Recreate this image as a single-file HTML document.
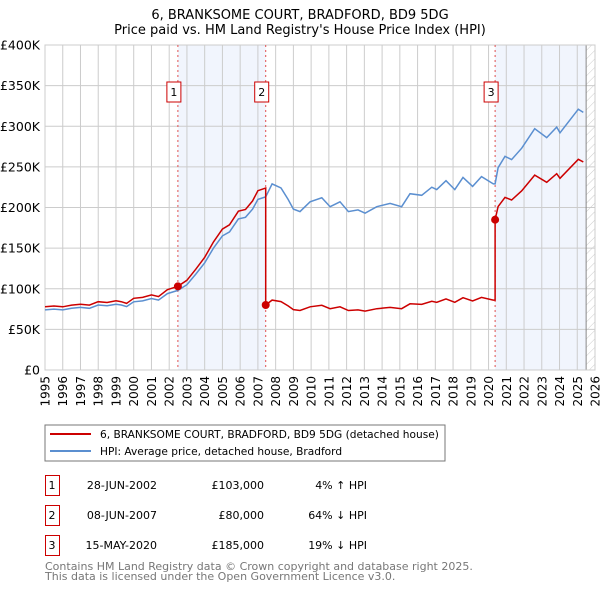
<!DOCTYPE html>
<html><head><meta charset="utf-8"><style>
body{margin:0;background:#fff;font-family:"DejaVu Sans","Liberation Sans",sans-serif;}
svg text{font-family:"DejaVu Sans","Liberation Sans",sans-serif;}
</style></head><body>
<svg id="chart" width="600" height="590" viewBox="0 0 600 590" xmlns="http://www.w3.org/2000/svg">
<defs><pattern id="hatch" width="6" height="6" patternUnits="userSpaceOnUse" patternTransform="rotate(45)"><line x1="0" y1="0" x2="0" y2="6" stroke="#ccc" stroke-width="1"/></pattern></defs>
<text x="300" y="19" text-anchor="middle" font-size="13">6, BRANKSOME COURT, BRADFORD, BD9 5DG</text>
<text x="300" y="34" text-anchor="middle" font-size="13">Price paid vs. HM Land Registry's House Price Index (HPI)</text>
<g id="plot"></g>
<rect x="45" y="425" width="400" height="36" fill="#fff" stroke="#777"/>
<line x1="50" y1="434" x2="91" y2="434" stroke="#cc0000" stroke-width="2"/>
<text x="100" y="438" font-size="10.6">6, BRANKSOME COURT, BRADFORD, BD9 5DG (detached house)</text>
<line x1="50" y1="451" x2="91" y2="451" stroke="#5b8fd0" stroke-width="2"/>
<text x="100" y="455" font-size="10.6">HPI: Average price, detached house, Bradford</text>
<g id="table" font-size="11"></g>
<text x="45" y="570" font-size="11" fill="#777">Contains HM Land Registry data © Crown copyright and database right 2025.</text>
<text x="45" y="580" font-size="11" fill="#777">This data is licensed under the Open Government Licence v3.0.</text>
</svg>
<script>
const hpiYears=[1995.0,1995.5,1996.0,1996.5,1997.0,1997.5,1998.0,1998.5,1999.0,1999.3,1999.6,2000.0,2000.5,2001.0,2001.4,2001.9,2002.49,2003.0,2003.5,2004.0,2004.5,2005.0,2005.4,2005.9,2006.3,2006.7,2007.0,2007.44,2007.8,2008.3,2008.7,2009.0,2009.37,2009.94,2010.6,2011.07,2011.63,2012.1,2012.64,2013.04,2013.7,2014.45,2015.1,2015.57,2016.23,2016.8,2017.08,2017.6,2018.1,2018.56,2019.1,2019.6,2020.27,2020.37,2020.54,2020.93,2021.3,2021.87,2022.6,2023.28,2023.84,2024.03,2025.06,2025.34];
const hpiValues=[74,75,74,76,77,76,80,79,81,80,78,84,85,88,86,94,98,105,118,132,150,165,170,186,188,198,210,213,229,224,210,198,195,207,212,201,207,195,197,193,201,205,201,217,215,225,222,233,222,237,226,238,229,229,249,263,259,273,297,286,299,292,321,317];
const saleYears=[2002.49,2007.44,2020.37];
const salePrices=[103,80,185];
const saleLabels=["1","2","3"];
const saleDates=["28-JUN-2002","08-JUN-2007","15-MAY-2020"];
const salePriceText=["£103,000","£80,000","£185,000"];
const saleDiffText=["4% ↑ HPI","64% ↓ HPI","19% ↓ HPI"];
const yTicks=[0,50,100,150,200,250,300,350,400];
const yTickLabels=["£0","£50K","£100K","£150K","£200K","£250K","£300K","£350K","£400K"];
const xTicks=[1995,1996,1997,1998,1999,2000,2001,2002,2003,2004,2005,2006,2007,2008,2009,2010,2011,2012,2013,2014,2015,2016,2017,2018,2019,2020,2021,2022,2023,2024,2025,2026];
const dataEnd=2025.5;

const X0=45,X1=595,Y0=370,Y1=45;
const xs=t=>X0+(t-1995)/(2026-1995)*(X1-X0);
const ys=v=>Y0-v/400*(Y0-Y1);
const NS="http://www.w3.org/2000/svg";
const plot=document.getElementById('plot');
function mk(tag,attrs,parent){const e=document.createElementNS(NS,tag);for(const k in attrs)e.setAttribute(k,attrs[k]);(parent||plot).appendChild(e);return e;}
function hpiAt(t){for(let i=0;i<hpiYears.length-1;i++){if(t<=hpiYears[i+1]){const f=(t-hpiYears[i])/(hpiYears[i+1]-hpiYears[i]);return hpiValues[i]+f*(hpiValues[i+1]-hpiValues[i]);}}return hpiValues[hpiValues.length-1];}

let r=mk('rect',{x:xs(saleYears[0]),y:Y1,width:xs(saleYears[1])-xs(saleYears[0]),height:Y0-Y1,fill:'#eef3fc',opacity:0.8});


r=mk('rect',{x:xs(saleYears[2]),y:Y1,width:xs(dataEnd)-xs(saleYears[2]),height:Y0-Y1,fill:'#eef3fc',opacity:0.8});


r=mk('rect',{x:xs(dataEnd),y:Y1,width:X1-xs(dataEnd),height:Y0-Y1,fill:'url(#hatch)'});


yTicks.forEach((v,i)=>{
 const l=mk('line',{x1:X0,x2:X1,y1:ys(v),y2:ys(v),stroke:'#ccc','stroke-width':1});
 
 
 const t=mk('text',{x:X0-5,y:ys(v)+4.5,'text-anchor':'end','font-size':12.5});
 t.textContent=yTickLabels[i];
 
 
});
xTicks.forEach(y=>{
 const l=mk('line',{x1:xs(y),x2:xs(y),y1:Y1,y2:Y0,stroke:'#ccc','stroke-width':1});
 
 
 const t=mk('text',{x:0,y:0,'text-anchor':'end','font-size':12,transform:`translate(${xs(y)+4.5},376) rotate(-90)`});
 t.textContent=y;
 
 
});
const vl=mk('line',{x1:xs(dataEnd),x2:xs(dataEnd),y1:Y1,y2:Y0,stroke:'#888','stroke-width':1});


const frame=mk('rect',{x:X0,y:Y1,width:X1-X0,height:Y0-Y1,fill:'none',stroke:'#ccc'});


saleYears.forEach((s,i)=>{
 const l=mk('line',{x1:xs(s),x2:xs(s),y1:Y1,y2:Y0,stroke:'#e05050','stroke-width':1,'stroke-dasharray':'2,3'});
 
 
});
let d='';
hpiYears.forEach((t,i)=>{d+=(i?'L':'M')+xs(t).toFixed(1)+','+ys(hpiValues[i]).toFixed(1);});
const hp=mk('path',{d:d,fill:'none',stroke:'#5b8fd0','stroke-width':1.5});


const pts=[];
const allT=hpiYears.concat(saleYears).sort((a,b)=>a-b);
allT.forEach(t=>{
 let k=0;for(let j=0;j<saleYears.length;j++)if(t>=saleYears[j])k=j;
 if(saleYears.includes(t)&&t>saleYears[0]){const kp=k-1;pts.push([t,hpiAt(t)*salePrices[kp]/hpiAt(saleYears[kp])]);}
 pts.push([t,hpiAt(t)*salePrices[k]/hpiAt(saleYears[k])]);
});
d='';pts.forEach((p,i)=>{d+=(i?'L':'M')+xs(p[0]).toFixed(1)+','+ys(p[1]).toFixed(1);});
const pp=mk('path',{d:d,fill:'none',stroke:'#cc0000','stroke-width':1.5});


saleYears.forEach((s,i)=>{
 const c=mk('circle',{cx:xs(s),cy:ys(salePrices[i]),r:4,fill:'#cc0000'});
 
 
 const b=mk('rect',{x:xs(s)-11,y:82,width:14,height:20,fill:'#fff',stroke:'#cc0000'});
 
 
 const t=mk('text',{x:xs(s)-4,y:96,'text-anchor':'middle','font-size':11});
 t.textContent=saleLabels[i];
 
 
});
const tb=document.getElementById('table');
saleLabels.forEach((lab,i)=>{
 const y=475+i*30;
 const b=mk('rect',{x:45.5,y:y+.5,width:14,height:20,fill:'#fff',stroke:'#cc0000'},tb);
 
 
 const cells=[[52,'middle',lab],[157,'end',saleDates[i]],[264,'end',salePriceText[i]],[367,'end',saleDiffText[i]]];
 cells.forEach((c,j)=>{
  const t=mk('text',{x:c[0],y:y+14,'text-anchor':c[1]},tb);
  t.textContent=c[2];
  
  
 });
});
</script>
</body></html>
